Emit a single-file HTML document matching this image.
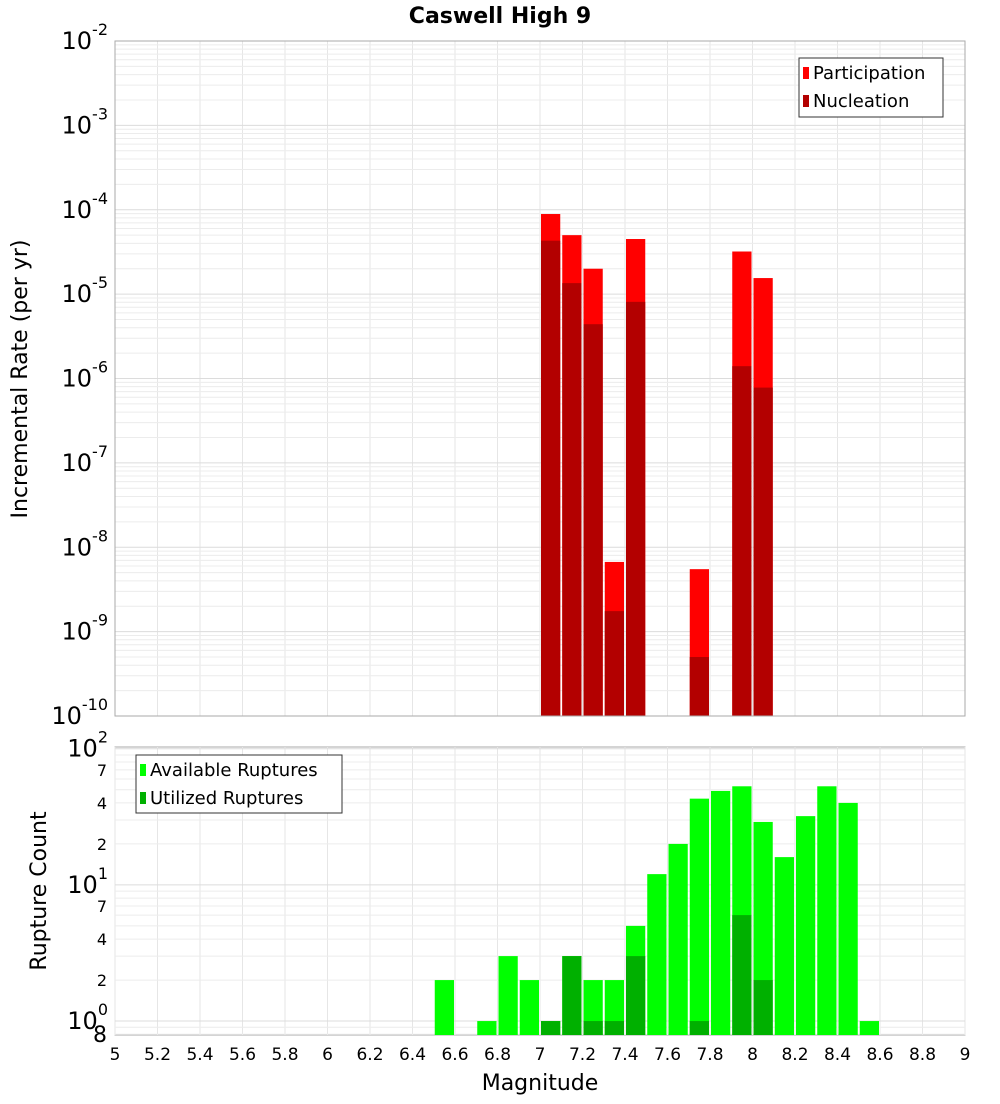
<!DOCTYPE html>
<html><head><meta charset="utf-8"><style>
body{margin:0;background:#fff;font-family:"DejaVu Sans","Liberation Sans",sans-serif}
svg text{font-family:"DejaVu Sans","Liberation Sans",sans-serif}
</style></head><body>
<svg id="chart" width="1000" height="1100" xmlns="http://www.w3.org/2000/svg">
<rect width="1000" height="1100" fill="#fff"/>
<text x="500" y="23" text-anchor="middle" font-size="22" font-weight="bold">Caswell High 9</text>
<g id="topg"></g><g id="botg"></g>
<text transform="translate(27,379) rotate(-90)" text-anchor="middle" font-size="22">Incremental Rate (per yr)</text>
<text transform="translate(46,891) rotate(-90)" text-anchor="middle" font-size="22">Rupture Count</text>
<text x="540" y="1090" text-anchor="middle" font-size="22">Magnitude</text>
</svg>
<script>
const rateBins=[7.05,7.15,7.25,7.35,7.45,7.75,7.95,8.05];
const participation=[8.9e-5,5e-5,2e-5,6.7e-9,4.5e-5,5.5e-9,3.2e-5,1.55e-5];
const nucleation=[4.3e-5,1.35e-5,4.4e-6,1.75e-9,8.1e-6,5e-10,1.4e-6,7.8e-7];
const countBins=[6.55,6.75,6.85,6.95,7.05,7.15,7.25,7.35,7.45,7.55,7.65,7.75,7.85,7.95,8.05,8.15,8.25,8.35,8.45,8.55];
const available=[2,1,3,2,1,3,2,2,5,12,20,43,49,53,29,16,32,53,40,1];
const utilized=[0,0,0,0,1,3,1,1,3,0,0,1,0,6,2,0,0,0,0,0];
const xTicks=[5,5.2,5.4,5.6,5.8,6,6.2,6.4,6.6,6.8,7,7.2,7.4,7.6,7.8,8,8.2,8.4,8.6,8.8,9];
const topExps=[-2,-3,-4,-5,-6,-7,-8,-9,-10];
const botMinorLabels=[2,4,7,20,40,70];
const NS="http://www.w3.org/2000/svg";
const X0=115,X1=965;
const xs=m=>X0+(m-5)/4*(X1-X0);
const TY0=41,TY1=716;
const yTop=v=>TY1-(Math.log10(v)+10)/8*(TY1-TY0);
const BY0=747,BY1=1035,bmin=Math.log10(0.79),bmax=Math.log10(103);
const yBot=v=>BY1-(Math.log10(v)-bmin)/(bmax-bmin)*(BY1-BY0);
function el(p,t,a,txt){const e=document.createElementNS(NS,t);for(const k in a)e.setAttribute(k,a[k]);if(txt!==undefined)e.textContent=txt;p.appendChild(e);return e;}
const topG=document.getElementById('topg'),botG=document.getElementById('botg');
function grid(g,y0,y1,yf,lo,hi){
  for(let m=5;m<=9.001;m+=0.2){const e=el(g,'line',{x1:xs(m),x2:xs(m),y1:y0,y2:y1,stroke:'#e6e6e6'});}
  for(let d=lo;d<hi;d++)for(let k=1;k<10;k++){const v=k*Math.pow(10,d);const yy=yf(v);if(yy<y0-0.5||yy>y1+0.5)continue;const e=el(g,'line',{x1:X0,x2:X1,y1:yy,y2:yy,stroke:k==1?'#dcdcdc':'#ececec'});}
}
grid(topG,TY0,TY1,yTop,-10,-1);
grid(botG,BY0,BY1,yBot,-1,3);
function bars(g,bins,vals,yf,ybase,col,name){
  bins.forEach((b,i)=>{if(vals[i]<=0)return;const w=xs(b+0.05)-xs(b-0.05);const yy=yf(vals[i]);
    const r=el(g,'rect',{x:xs(b-0.05)+1,y:yy,width:w-2,height:ybase-yy,fill:col});
    });
}
bars(topG,rateBins,participation,yTop,TY1,'#ff0000','participation-bar');
bars(topG,rateBins,nucleation,yTop,TY1,'#b30000','nucleation-bar');
bars(botG,countBins,available,yBot,BY1,'#00ff00','available-bar');
bars(botG,countBins,utilized,yBot,BY1,'#00b000','utilized-bar');
[[TY0,TY1,'top-plot-frame'],[BY0,BY1,'bottom-plot-frame']].forEach(([a,b,n])=>{const r=el(topG,'rect',{x:X0,y:a,width:X1-X0,height:b-a,fill:'none',stroke:'#aaa'});});
topExps.forEach(e=>{const yy=yTop(Math.pow(10,e));const t=el(topG,'text',{x:108,y:yy+8,'text-anchor':'end','font-size':24});
  
  el(t,'tspan',{},'10');el(t,'tspan',{dy:-14,'font-size':16},String(e));});
[0,1,2].forEach(e=>{const yy=yBot(Math.pow(10,e));const t=el(botG,'text',{x:108,y:yy+8,'text-anchor':'end','font-size':24});
  
  el(t,'tspan',{},'10');el(t,'tspan',{dy:-14,'font-size':16},String(e));});
botMinorLabels.forEach(v=>{const t=el(botG,'text',{x:107,y:yBot(v)+6,'text-anchor':'end','font-size':16},String(v).charAt(0));});
{const t=el(botG,'text',{x:107,y:1042,'text-anchor':'end','font-size':22},'8');}
xTicks.forEach(m=>{const t=el(botG,'text',{x:xs(m),y:1060,'text-anchor':'middle','font-size':17},String(m));});
function legend(g,lx,ly,w,h,items,name){
  const r=el(g,'rect',{x:lx,y:ly,width:w,height:h,fill:'#fff',stroke:'#333'});
  items.forEach(([lab,col],i)=>{const s=el(g,'rect',{x:lx+4,y:ly+9+i*28,width:6,height:12,fill:col});
    const t=el(g,'text',{x:lx+14,y:ly+21+i*28,'font-size':18},lab);});
}
legend(topG,799,58,144,59,[['Participation','#ff0000'],['Nucleation','#b30000']],'top-legend');
legend(botG,136,755,206,58,[['Available Ruptures','#00ff00'],['Utilized Ruptures','#00b000']],'bottom-legend');
</script>
</body></html>
